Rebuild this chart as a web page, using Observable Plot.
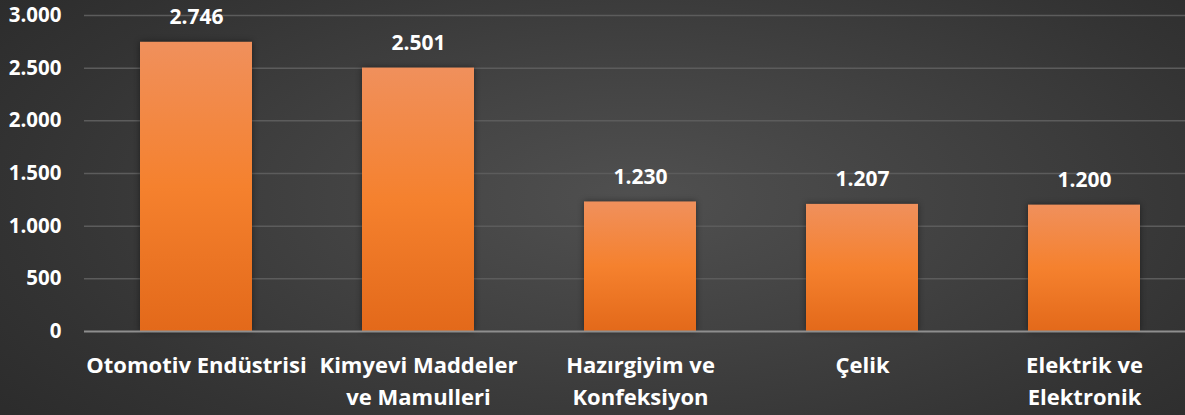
<!DOCTYPE html>
<html>
<head>
<meta charset="utf-8">
<script src="https://cdn.jsdelivr.net/npm/d3@7"></script>
<script src="https://cdn.jsdelivr.net/npm/@observablehq/plot@0.6"></script>
<style>
  html, body { margin: 0; padding: 0; }
  #chart {
    width: 1185px; height: 415px; overflow: hidden;
    background: radial-gradient(ellipse 75% 95% at 54% 48%, #505050 0%, #424242 35%, #333333 70%, #282828 100%);
  }
  #chart svg { display: block; }
</style>
</head>
<body>
<div id="chart"></div>
<script>
const categories = ["Otomotiv Endüstrisi", "Kimyevi Maddeler\nve Mamulleri", "Hazırgiyim ve\nKonfeksiyon", "Çelik", "Elektrik ve\nElektronik"];
const values = [2746, 2501, 1230, 1207, 1200];
const yTicks = [0, 500, 1000, 1500, 2000, 2500, 3000];

const trFormat = d3.formatLocale({decimal: ",", thousands: ".", grouping: [3], currency: ["", "₺"]}).format(",d");
const data = categories.map((c, i) => ({cat: c, value: values[i]}));

const chart = Plot.plot({
  width: 1185,
  height: 415,
  marginLeft: 84,
  marginRight: 0,
  marginTop: 15,
  marginBottom: 84,
  style: {
    background: "transparent",
    color: "#ffffff",
    fontFamily: "'Open Sans', sans-serif",
    fontSize: "21px",
    fontWeight: "bold",
    overflow: "visible"
  },
  x: {domain: categories, paddingInner: 0.496, paddingOuter: 0.225, align: 0.55, label: null},
  y: {domain: [0, 3000], label: null},
  marks: [
    Plot.gridY(yTicks.filter(d => d > 0), {stroke: "#5c5c5c", strokeOpacity: 1, strokeWidth: 1.5}),
    Plot.barY(data, {x: "cat", y: "value", fill: "url(#barGrad)"}),
    Plot.ruleY([0], {stroke: "#8e8e8e", strokeWidth: 2}),
    Plot.text(data, {x: "cat", y: "value", text: d => trFormat(d.value), dy: -25, fill: "#ffffff", fontSize: 21, fontWeight: "bold"}),
    Plot.axisY({ticks: yTicks, tickFormat: trFormat, tickSize: 0, tickPadding: 23, fill: "#ffffff", fontSize: 20.5, fontWeight: "bold"}),
    Plot.axisX({tickSize: 0, tickPadding: 19, lineHeight: 1.45, fill: "#ffffff", fontSize: 22, fontWeight: "bold"})
  ]
});

const svg = d3.select(chart);
const grad = svg.insert("defs", ":first-child").append("linearGradient")
  .attr("id", "barGrad").attr("x1", 0).attr("y1", 0).attr("x2", 0).attr("y2", 1);
grad.append("stop").attr("offset", "0%").attr("stop-color", "#f0905c");
grad.append("stop").attr("offset", "50%").attr("stop-color", "#f5812e");
grad.append("stop").attr("offset", "100%").attr("stop-color", "#e3691a");
svg.selectAll('g[aria-label="bar"]').style("filter", "drop-shadow(0px 0px 3px rgba(0,0,0,0.45))");

document.getElementById("chart").appendChild(chart);
</script>
</body>
</html>
